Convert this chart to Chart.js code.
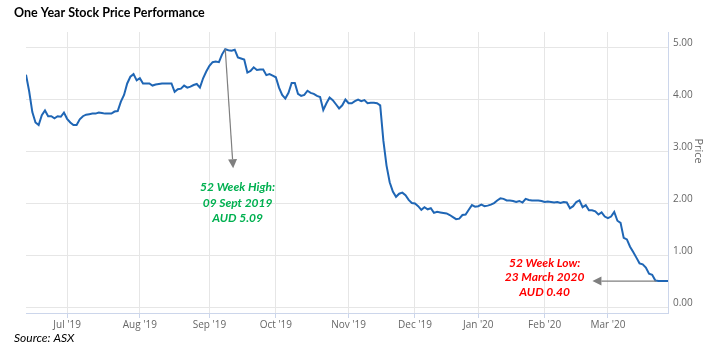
<!DOCTYPE html>
<html>
<head>
<meta charset="utf-8">
<title>One Year Stock Price Performance</title>
<script src="https://cdn.jsdelivr.net/npm/chart.js@4.4.0/dist/chart.umd.min.js"></script>
<style>
    html, body { margin: 0; padding: 0; background: #fff; }
    #wrap { position: relative; width: 711px; height: 352px; }
</style>
</head>
<body>
<div id="wrap"><canvas id="priceChart" width="711" height="352"></canvas></div>
<script>
// Month labels and the trading-day index of the first session in each month
const monthLabels = ["Jul '19", "Aug '19", "Sep '19", "Oct '19", "Nov '19", "Dec '19", "Jan '20", "Feb '20", "Mar '20"];
const monthStarts = [13, 36, 58, 79, 102, 123, 143, 164, 184];

// Price axis ticks
const priceTicks = [0, 1, 2, 3, 4, 5];

// Daily closing price (AUD), one value per trading day, mid Jun 2019 - late Mar 2020
const prices = [
    4.47, 4.15, 3.75, 3.55, 3.50, 3.69, 3.78, 3.67, 3.67, 3.63,
    3.67, 3.66, 3.74, 3.62, 3.55, 3.50, 3.50, 3.61, 3.67, 3.70,
    3.71, 3.72, 3.72, 3.74, 3.73, 3.72, 3.72, 3.72, 3.76, 3.77,
    3.95, 4.08, 4.30, 4.43, 4.48, 4.36, 4.40, 4.30, 4.30, 4.30,
    4.26, 4.28, 4.29, 4.30, 4.30, 4.30, 4.30, 4.14, 4.19, 4.20,
    4.26, 4.22, 4.24, 4.27, 4.29, 4.22, 4.40, 4.53, 4.64, 4.71,
    4.72, 4.71, 4.86, 4.96, 4.94, 4.93, 4.95, 4.80, 4.78, 4.76,
    4.51, 4.54, 4.61, 4.56, 4.57, 4.57, 4.46, 4.48, 4.45, 4.42,
    4.22, 4.08, 4.01, 4.12, 4.31, 4.31, 4.10, 4.06, 4.08, 4.16,
    4.12, 4.10, 4.06, 4.04, 3.79, 3.92, 4.03, 3.98, 3.90, 3.82,
    3.88, 3.99, 3.92, 3.92, 3.96, 3.99, 3.96, 3.98, 3.92, 3.93,
    3.93, 3.92, 3.88, 3.20, 2.72, 2.40, 2.22, 2.12, 2.18, 2.20,
    2.15, 2.06, 2.00, 1.99, 1.94, 1.87, 1.92, 1.88, 1.90, 1.81,
    1.83, 1.82, 1.81, 1.80, 1.77, 1.73, 1.69, 1.70, 1.77, 1.78,
    1.87, 1.96, 1.93, 1.94, 1.97, 1.94, 1.95, 1.97, 2.00, 2.05,
    2.09, 2.08, 2.05, 2.05, 2.04, 2.02, 2.04, 2.01, 2.08, 2.06,
    2.05, 2.05, 2.05, 2.04, 2.02, 2.03, 2.02, 2.01, 2.02, 2.00,
    2.02, 2.01, 1.90, 1.94, 2.02, 2.05, 1.92, 1.96, 1.86, 1.86,
    1.84, 1.78, 1.82, 1.74, 1.71, 1.74, 1.83, 1.66, 1.62, 1.33,
    1.30, 1.16, 1.06, 0.95, 0.84, 0.82, 0.76, 0.64, 0.62, 0.51,
    0.50, 0.50, 0.50, 0.50
];

const highNote = ['52 Week High:', '09 Sept 2019', 'AUD 5.09'];
const lowNote = ['52 Week Low:', '23 March 2020', 'AUD 0.40'];

function drawArrow(ctx, x1, y1, x2, y2) {
    const ang = Math.atan2(y2 - y1, x2 - x1);
    const len = 9, half = 4.5;
    const bx = x2 - len * Math.cos(ang), by = y2 - len * Math.sin(ang);
    ctx.strokeStyle = '#7f7f7f';
    ctx.fillStyle = '#7f7f7f';
    ctx.lineWidth = 1.2;
    ctx.beginPath();
    ctx.moveTo(x1, y1);
    ctx.lineTo(bx, by);
    ctx.stroke();
    ctx.beginPath();
    ctx.moveTo(x2, y2);
    ctx.lineTo(bx + half * Math.sin(ang), by - half * Math.cos(ang));
    ctx.lineTo(bx - half * Math.sin(ang), by + half * Math.cos(ang));
    ctx.closePath();
    ctx.fill();
}

function drawLines(ctx, lines, cx, firstY, step) {
    lines.forEach((t, i) => ctx.fillText(t, cx, firstY + i * step));
}

// Titles, axis name and the high / low call-outs
const notesPlugin = {
    id: 'notes',
    afterDraw(chart) {
        const { ctx, scales: { x, y } } = chart;
        ctx.save();
        ctx.textBaseline = 'middle';

        ctx.fillStyle = '#000';
        ctx.textAlign = 'left';
        ctx.font = 'bold 12.5px Lato';
        ctx.fillText('One Year Stock Price Performance', 14, 13);
        ctx.font = 'italic 12px Lato';
        ctx.fillText('Source: ASX', 14, 338);

        ctx.save();
        ctx.translate(698, y.getPixelForValue(3));
        ctx.rotate(Math.PI / 2);
        ctx.textAlign = 'center';
        ctx.fillStyle = '#666';
        ctx.font = '11px "Open Sans"';
        ctx.fillText('Price', 0, 0);
        ctx.restore();

        // 52 week high
        const hx = x.getPixelForValue(63), hy = y.getPixelForValue(4.96);
        const htx = x.getPixelForValue(65.5), hty = y.getPixelForValue(2.67);
        drawArrow(ctx, hx, hy, htx, hty);
        ctx.textAlign = 'center';
        ctx.font = 'italic bold 12px Lato';
        ctx.fillStyle = '#00b050';
        drawLines(ctx, highNote, x.getPixelForValue(66.9), hty + 19, 15.5);

        // 52 week low
        const ly = y.getPixelForValue(0.5);
        drawArrow(ctx, x.getPixelForValue(199.3), ly, x.getPixelForValue(179.1), ly);
        ctx.fillStyle = '#ff0000';
        drawLines(ctx, lowNote, x.getPixelForValue(164), ly - 18, 14.5);

        ctx.restore();
    }
};

Chart.defaults.font.family = '"Open Sans", sans-serif';
Chart.defaults.font.size = 10;
Chart.defaults.color = '#666';

const ctxPrice = document.getElementById('priceChart').getContext('2d');
const priceChart = new Chart(ctxPrice, {
    type: 'line',
    data: {
        datasets: [{
            label: 'Price',
            data: prices.map((p, i) => ({ x: i, y: p })),
            borderColor: '#1f66b5',
            borderWidth: 2,
            pointRadius: 0,
            tension: 0,
            fill: false
        }]
    },
    options: {
        responsive: false,
        animation: false,
        devicePixelRatio: 1,
        layout: { padding: { left: 26, top: 32, right: 0, bottom: 19 } },
        plugins: {
            legend: { display: false },
            tooltip: { enabled: false }
        },
        scales: {
            x: {
                type: 'linear',
                min: 0,
                max: prices.length - 1,
                afterBuildTicks: axis => { axis.ticks = monthStarts.map(v => ({ value: v })); },
                afterFit: axis => { axis.height = 20; },
                grid: {
                    color: '#e6e6e6',
                    tickColor: '#ccd6eb',
                    tickLength: 5
                },
                border: { display: true, color: '#ccd6eb' },
                ticks: {
                    padding: 1,
                    maxRotation: 0,
                    autoSkip: false,
                    callback: v => monthLabels[monthStarts.indexOf(v)]
                }
            },
            y: {
                position: 'right',
                min: -0.115,
                max: 5.29,
                afterBuildTicks: axis => { axis.ticks = priceTicks.map(v => ({ value: v })); },
                afterFit: axis => { axis.width = 43; },
                grid: { color: '#e6e6e6', drawTicks: false },
                border: { display: true, color: '#ccd6eb' },
                ticks: {
                    padding: 5,
                    labelOffset: -4,
                    callback: v => v.toFixed(2)
                }
            }
        }
    },
    plugins: [notesPlugin]
});
</script>
</body>
</html>
